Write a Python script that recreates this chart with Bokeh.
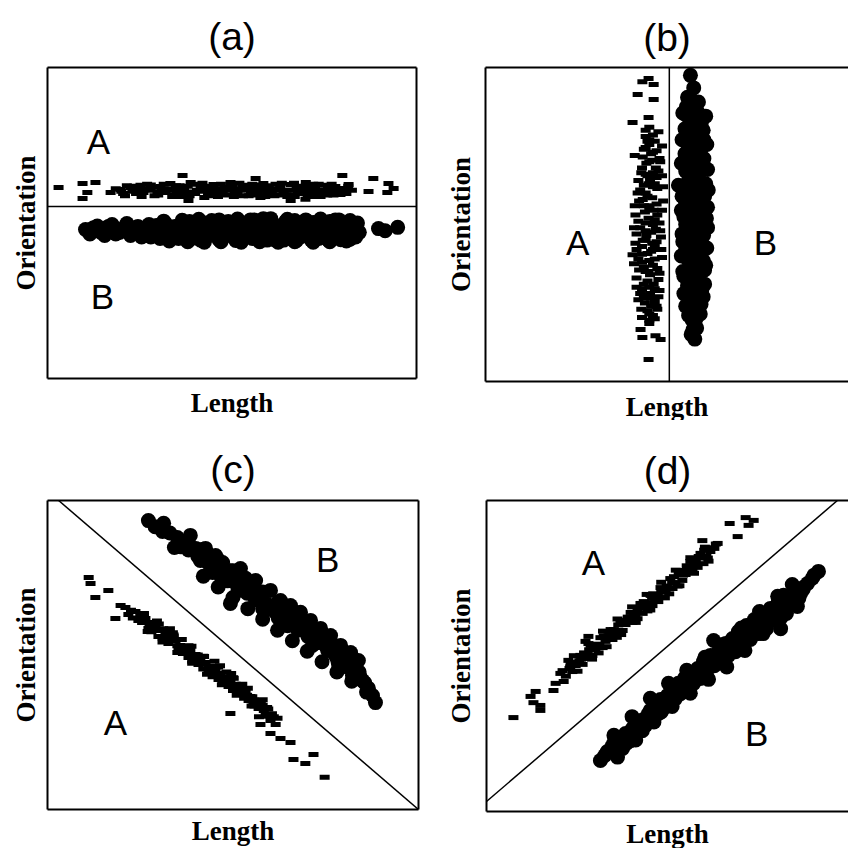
from bokeh.plotting import figure
from bokeh.models import Range1d, LinearAxis, FixedTicker, Span
from bokeh.layouts import column, row
from bokeh.core.properties import value
from bokeh.embed import file_html
from bokeh.resources import INLINE

# ---------------- data (arbitrary units 0-100) -------------
# Panel (a): boundary horizontal
a_A_len = [3.0, 9.5, 13.0, 10.8, 9.5, 36.6, 56.4, 79.9, 38.2, 65.9, 69.9, 88.3, 87.0, 92.4, 93.8, 92.1, 81.6,
           17.1, 19.8, 22.5, 24.0, 25.2, 27.9, 29.0, 30.6, 32.0, 33.3, 34.5, 36.0, 37.0, 38.8, 40.0, 41.5, 42.5,
           44.2, 45.0, 46.9, 48.0, 49.6, 50.5, 52.3, 53.5, 55.0, 56.0, 57.7, 58.5, 60.4, 61.5, 63.1, 64.0, 65.9,
           67.0, 68.6, 70.0, 71.3, 72.5, 74.0, 75.0, 76.7, 78.0, 79.4, 80.5, 26.5, 35.0, 43.0, 47.5, 51.0, 54.0,
           57.0, 59.5, 62.0, 66.0, 69.0, 73.0, 77.5, 31.0, 39.0, 44.0,
           18.5, 20.5, 21.5, 23.0, 24.5, 26.0, 27.0, 28.5, 29.8, 31.5, 32.8, 34.0, 35.8, 37.5, 38.0, 39.5, 40.5,
           42.0, 43.5, 45.5, 46.2, 47.0, 48.5, 50.0, 51.5, 52.8, 54.5, 55.5, 56.8, 58.0, 59.0, 60.0, 61.0, 62.5,
           63.5, 64.8, 66.5, 67.5, 68.0, 69.5, 70.8, 71.8, 73.5, 74.5, 75.8, 77.0, 78.5, 80.0, 81.0, 82.5,
           20.0, 21.0, 23.5, 25.5, 28.0, 30.0, 32.5, 33.8, 36.5, 38.5, 40.8, 43.0, 45.8, 48.8, 50.8, 53.0,
           55.8, 58.8, 60.8, 62.8, 65.0, 67.8, 70.5, 72.0, 74.8, 76.0, 79.0, 81.5, 34.8, 44.8, 52.0, 57.5,
           61.8, 66.8, 71.0, 75.5]
a_A_ori = [61.4, 62.7, 63.0, 59.8, 57.9, 65.3, 64.3, 65.3, 57.2, 57.2, 57.6, 64.3, 60.1, 62.7, 61.1, 59.8, 62.4,
           59.8, 60.8, 61.4, 59.5, 62.1, 60.5, 58.8, 61.7, 59.8, 62.7, 60.8, 58.5, 61.1, 63.0, 59.5, 61.7, 58.2,
           60.1, 62.4, 59.2, 61.4, 63.0, 58.5, 60.5, 62.1, 59.2, 61.1, 58.2, 62.7, 60.1, 58.8, 61.7, 59.5, 62.4,
           58.5, 60.8, 63.0, 59.2, 61.4, 58.5, 62.1, 60.1, 61.7, 59.2, 61.1, 61.0, 60.0, 60.5, 60.0, 61.0, 60.8,
           60.0, 59.5, 60.5, 60.5, 61.7, 60.0, 59.0, 60.5, 60.0, 61.0,
           61.0, 59.5, 62.0, 60.2, 61.0, 59.8, 62.5, 61.5, 60.0, 62.5, 61.0, 59.0, 62.0, 59.8, 61.8, 62.5, 60.5,
           62.8, 59.2, 61.0, 58.5, 62.5, 59.0, 62.0, 59.5, 61.5, 58.8, 62.5, 59.0, 61.2, 58.5, 62.0, 60.8, 59.0,
           62.8, 60.5, 59.0, 61.8, 59.5, 60.2, 61.5, 58.5, 62.5, 60.5, 59.0, 62.5, 60.5, 60.0, 59.5, 60.5,
           60.2, 58.8, 61.8, 58.5, 62.2, 59.0, 60.5, 58.5, 61.5, 58.8, 60.2, 61.8, 59.8, 60.5, 59.8, 58.8,
           60.5, 60.8, 59.2, 61.0, 58.5, 60.0, 59.0, 62.5, 59.5, 61.5, 60.2, 61.8, 62.0, 58.8, 62.8, 62.2,
           62.5, 62.8, 60.5, 60.2]
a_B_len = [10.3, 12.5, 14.5, 16.5, 18.5, 20.5, 22.5, 24.5, 26.5, 28.0, 29.5, 31.0, 33.0, 34.5, 36.0, 37.5, 39.0,
           40.5, 42.0, 43.5, 45.0, 46.5, 48.0, 49.5, 51.0, 52.5, 54.0, 55.5, 57.0, 58.5, 60.0, 61.5, 63.0, 64.5,
           66.0, 67.5, 69.0, 70.5, 72.0, 73.5, 75.0, 76.5, 78.0, 79.5, 81.0, 82.5, 84.0, 83.5, 89.7, 94.9,
           44.0, 50.0, 56.0, 62.0, 68.0, 74.0, 80.0, 35.0, 27.0, 19.0,
           11.5, 13.5, 15.5, 17.5, 19.5, 21.5, 23.5, 25.5, 27.5, 29.0, 30.5, 32.0, 33.5, 35.5, 37.0, 38.5,
           40.0, 41.5, 43.0, 44.5, 46.0, 47.5, 49.0, 50.5, 52.0, 53.5, 55.0, 56.5, 58.0, 59.5, 61.0, 62.5,
           64.0, 65.5, 67.0, 68.5, 70.0, 71.5, 73.0, 74.5, 76.0, 77.5, 79.0, 80.5, 82.0, 83.0, 84.5, 91.5,
           31.5, 36.5, 41.0, 46.5, 51.5, 56.0, 60.5, 65.0, 70.0, 74.0, 78.0, 82.0,
           33.0, 38.0, 42.5, 47.0, 52.5, 57.5, 62.5, 67.0, 72.0, 76.5, 81.0]
a_B_ori = [47.9, 48.5, 47.0, 48.9, 46.5, 48.2, 46.0, 48.9, 47.2, 45.5, 49.2, 47.0, 45.3, 48.9, 46.5, 49.8, 45.0,
           47.9, 50.2, 46.0, 48.5, 44.6, 49.5, 46.9, 44.4, 50.2, 47.5, 45.0, 49.2, 51.4, 46.5, 44.6, 48.5, 50.5,
           46.0, 44.4, 49.2, 47.0, 50.2, 45.0, 48.2, 50.5, 46.0, 44.6, 49.5, 47.2, 50.0, 45.5, 48.2, 48.6,
           47.0, 48.0, 47.5, 47.0, 47.5, 47.0, 48.0, 47.5, 47.8, 47.5,
           46.5, 49.0, 46.0, 49.5, 47.0, 49.8, 47.0, 45.5, 49.5, 47.5, 45.0, 49.8, 47.5, 45.0, 47.8, 50.5,
           46.0, 44.5, 49.0, 50.8, 47.0, 45.0, 50.5, 47.5, 45.5, 49.0, 51.0, 46.0, 48.5, 44.5, 50.0, 46.5,
           44.5, 48.5, 50.8, 45.5, 48.5, 44.5, 49.5, 46.5, 44.6, 49.0, 51.0, 46.5, 44.8, 48.5, 47.0, 47.5,
           50.6, 50.9, 51.2, 51.0, 51.3, 51.0, 51.4, 51.2, 51.0, 51.3, 51.0, 50.8,
           44.2, 44.0, 43.8, 44.0, 43.8, 44.0, 43.8, 44.0, 43.8, 44.0, 44.2]
a_boundary_ori = 55.3

# Panel (b): boundary vertical
b_A_len = [44.8, 43.1, 46.2, 41.8, 46.2, 40.4, 44.8, 42.6, 43.1, 46.7, 48.1, 44.8, 40.4, 46.5,
           45.0, 47.5, 44.0, 46.5, 48.5, 43.5, 45.5, 47.8, 44.2, 46.8, 42.8, 48.5, 45.2, 43.5, 47.2, 41.8,
           45.8, 48.8, 43.5, 46.2, 41.2, 44.8, 47.8, 42.5, 45.5, 48.2, 43.2, 46.5, 41.5, 44.5, 48.5, 43.0,
           46.0, 42.2, 45.2, 47.5, 43.5, 46.5, 42.5, 45.5, 43.8, 47.0, 44.5, 46.0, 43.0, 45.0,
           45.0, 44.0, 46.0, 44.0, 45.0, 47.0, 44.0, 46.0, 45.0, 46.0, 44.0, 45.0,
           44.0, 46.0, 45.0, 43.2, 47.0, 45.8, 43.0, 47.5, 44.5, 46.5, 42.5, 44.5, 47.0, 42.2, 45.0, 43.8,
           47.2, 42.0, 44.0, 46.8, 41.5, 44.2, 47.0, 43.0, 45.5, 42.0, 45.0, 47.2, 43.5, 41.5, 44.5, 46.2,
           43.0, 45.2, 47.5, 43.5, 45.5, 42.8, 45.0,
           41.0, 48.0, 42.0, 48.8, 41.0, 48.5, 40.8, 48.0, 41.2, 48.3, 40.8, 47.8, 41.5, 47.8, 42.0, 47.2,
           44.0, 46.0, 44.8, 43.2, 46.5, 44.0, 45.8, 43.0, 46.5, 44.8, 44.0, 46.5, 45.0, 44.5, 46.0]
b_A_ori = [96.5, 95.5, 94.6, 91.4, 89.8, 82.5, 84.1, 16.6, 14.0, 14.6, 13.4, 7.0, 40.4, 20.0,
           81.0, 79.5, 78.0, 76.5, 75.0, 74.0, 72.5, 71.0, 69.5, 68.0, 66.5, 65.5, 64.0, 62.5, 61.5, 60.0,
           58.5, 57.5, 56.0, 54.5, 53.0, 52.0, 50.5, 49.0, 47.5, 46.0, 45.0, 43.5, 42.0, 40.8, 39.5, 38.0,
           37.0, 35.5, 34.0, 32.5, 31.0, 29.5, 28.0, 26.5, 25.0, 24.0, 22.5, 21.0, 20.4, 18.5,
           70.0, 60.0, 50.0, 45.0, 55.0, 65.0, 35.0, 42.0, 30.0, 62.0, 66.0, 77.0,
           80.0, 78.5, 75.5, 71.5, 73.5, 70.5, 68.0, 67.0, 65.5, 63.0, 61.0, 59.0, 56.5, 57.5, 56.0, 54.0,
           53.0, 51.0, 50.5, 48.5, 47.0, 46.5, 44.5, 43.0, 41.5, 39.0, 38.5, 36.0, 36.5, 33.0, 32.0, 31.0,
           29.5, 28.0, 27.0, 26.5, 24.0, 23.0, 21.5,
           72.0, 70.0, 64.0, 62.0, 56.0, 54.5, 49.0, 48.0, 44.0, 42.0, 37.5, 34.5, 30.0, 29.0, 26.0, 23.0,
           74.5, 66.5, 63.0, 58.0, 51.5, 48.0, 44.0, 40.5, 39.0, 35.0, 27.5, 25.5, 19.5, 76.5, 73.0]
b_B_len = [56.3, 57.2, 56.5, 55.2, 58.2, 56.0, 59.3, 54.8, 57.5, 60.0, 55.5, 58.5, 56.0, 59.8, 55.0, 57.8,
           60.5, 54.5, 57.0, 59.5, 53.0, 55.8, 58.8, 60.7, 55.0, 57.5, 59.9, 54.2, 56.8, 59.2, 55.5, 58.0,
           60.2, 54.5, 57.0, 59.5, 55.8, 58.5, 56.0, 59.0, 56.8, 58.0, 56.5, 57.5,
           57.0, 57.0, 57.0, 57.0, 57.0, 57.0, 57.0, 57.0, 57.0, 57.0,
           55.5, 58.5, 55.0, 57.5, 59.8, 55.8, 58.0, 59.5, 54.8, 57.2, 60.0, 56.5, 58.8, 55.8, 59.0, 56.2,
           60.2, 55.0, 57.8, 56.5, 54.5, 59.0, 56.0, 58.8, 55.8, 58.0, 55.0, 57.5, 59.8, 56.5, 58.5, 55.5,
           58.0, 56.5, 59.2, 55.8, 57.8, 57.0,
           54.2, 60.5, 54.0, 60.8, 53.8, 61.0, 54.0, 61.2, 53.8, 61.0, 54.0, 61.0, 53.8, 60.8, 54.2, 60.5,
           54.5, 60.2, 55.0, 59.8, 57.0, 57.5, 56.8, 57.2, 56.0, 58.5, 57.0, 56.5, 58.0, 57.5, 57.5]
b_B_ori = [97.5, 93.5, 89.5, 87.5, 86.0, 84.0, 82.5, 80.5, 79.0, 77.0, 75.5, 73.0, 71.0, 69.0, 67.0, 65.0,
           63.0, 61.0, 59.5, 57.5, 62.5, 55.5, 54.0, 52.0, 50.0, 48.5, 46.5, 44.5, 43.0, 41.0, 39.0, 37.5,
           35.5, 33.5, 31.5, 29.5, 27.5, 25.5, 23.5, 21.5, 19.5, 17.0, 15.0, 13.5,
           88.0, 76.0, 70.0, 58.0, 52.0, 46.0, 40.0, 34.0, 28.0, 22.0,
           90.5, 89.0, 85.0, 83.0, 80.0, 78.0, 76.0, 74.5, 72.5, 72.0, 71.0, 68.0, 66.5, 64.0, 62.5, 60.5,
           59.0, 57.0, 56.0, 53.5, 52.5, 50.5, 49.0, 47.5, 45.5, 44.0, 42.0, 40.5, 38.5, 36.0, 33.0, 30.5,
           29.0, 26.5, 24.5, 21.0, 20.0, 16.5,
           85.5, 84.5, 77.0, 75.5, 69.5, 67.5, 59.0, 61.0, 54.5, 55.5, 47.0, 49.0, 40.0, 42.5, 35.0, 37.0,
           28.0, 31.0, 24.0, 27.0, 86.5, 81.0, 74.0, 62.0, 56.0, 50.0, 44.5, 38.0, 31.5, 25.0, 18.5]
b_boundary_len = 50.5

# Panel (c): boundary diagonal falling
c_A_len = [11.1, 11.6, 12.9, 16.4, 18.3, 19.7, 49.3, 65.5, 62.8, 66.3, 69.5, 71.7, 74.7, 57.4, 60.1,
           21.0, 21.8, 23.7, 24.5, 26.4, 27.2, 27.8, 29.1, 29.9, 30.5, 31.8, 32.6, 33.2, 34.5, 35.3, 35.8,
           37.2, 38.0, 38.5, 39.9, 40.7, 41.2, 42.6, 43.4, 43.9, 45.3, 46.1, 46.6, 48.0, 48.8, 49.3, 50.7,
           51.5, 52.0, 53.4, 54.2, 54.7, 56.1, 56.9, 58.0, 58.8, 60.1, 61.5,
           25.0, 28.5, 31.0, 34.0, 36.5, 39.0, 42.0, 44.5, 47.5, 50.0, 53.0, 55.5, 45.0, 33.0, 49.5,
           22.5, 23.0, 25.5, 26.0, 28.0, 29.5, 31.2, 32.0, 33.8, 35.0, 36.2, 37.5, 38.8, 40.0, 40.5, 41.8,
           42.2, 44.0, 45.8, 46.5, 47.2, 48.2, 49.8, 50.2, 51.0, 52.5, 53.8, 55.2, 55.8, 57.5, 58.3, 59.2,
           60.5, 62.0, 57.0,
           26.0, 27.0, 30.0, 31.0, 34.0, 35.0, 38.0, 39.0, 42.0, 43.0, 46.0, 47.0, 50.0, 51.0, 54.0, 55.0,
           58.0, 59.0, 27.5, 29.0, 31.5, 33.0, 35.5, 37.0, 39.5, 41.0, 43.5, 45.0, 47.5, 49.0, 51.5, 53.0,
           55.5, 57.0, 59.5, 61.0]
c_A_ori = [75.1, 73.1, 68.6, 70.9, 61.8, 66.0, 31.1, 21.7, 23.0, 16.2, 14.9, 17.8, 10.4, 27.5, 24.6,
           65.4, 63.1, 64.1, 61.2, 61.8, 58.6, 60.5, 59.2, 56.0, 57.9, 57.0, 53.7, 55.7, 54.7, 51.5, 53.1,
           52.4, 49.2, 51.5, 50.2, 46.9, 48.5, 47.6, 44.3, 46.3, 45.6, 42.1, 44.0, 43.0, 39.8, 41.7, 40.5,
           37.5, 39.2, 38.2, 35.3, 36.6, 35.3, 32.7, 33.7, 30.7, 28.8, 27.5,
           62.5, 59.5, 55.5, 56.0, 50.5, 48.0, 45.5, 43.0, 41.0, 38.5, 36.0, 34.0, 48.0, 58.5, 44.0,
           64.5, 62.0, 60.5, 63.0, 57.5, 61.0, 58.5, 55.5, 57.2, 53.0, 55.0, 50.8, 52.8, 48.0, 50.0, 47.0,
           49.5, 45.0, 43.5, 46.5, 41.5, 44.5, 40.0, 42.5, 38.5, 40.5, 37.0, 36.5, 33.5, 35.0, 32.0, 33.0,
           31.0, 29.5, 30.0,
           63.4, 57.6, 60.0, 54.2, 56.5, 50.8, 53.0, 47.3, 49.6, 43.8, 46.1, 40.4, 42.6, 37.0, 39.2, 33.5,
           35.5, 30.2, 59.5, 58.0, 56.0, 55.0, 53.0, 51.5, 49.5, 48.0, 46.0, 44.5, 42.0, 41.0, 38.5, 37.5,
           35.5, 34.0, 32.5, 30.0]
c_B_len = [27.2, 31.3, 31.0, 35.0, 38.5, 34.2, 37.2, 39.9, 42.6, 41.2, 43.9, 45.3, 47.2, 46.6, 49.3, 50.7,
           52.0, 53.4, 54.7, 56.1, 49.3, 57.4, 58.8, 60.1, 61.5, 62.8, 64.2, 65.5, 66.8, 68.2, 69.5, 70.9,
           72.2, 73.6, 74.9, 76.3, 77.6, 79.0, 80.3, 81.7, 83.0, 83.8, 84.9, 86.5, 88.4, 87.6,
           44.5, 51.5, 58.0, 64.7, 71.4, 78.4, 82.2,
           29.0, 33.0, 36.5, 38.0, 40.5, 42.5, 44.8, 45.8, 47.8, 48.5, 50.0, 51.3, 52.8, 53.8, 55.5, 56.5,
           57.8, 59.5, 61.0, 62.2, 63.5, 64.8, 66.2, 67.5, 68.8, 70.2, 71.5, 72.8, 74.2, 75.5, 76.8, 78.2,
           79.6, 81.0, 82.5, 84.2, 85.5, 86.0,
           42.0, 46.0, 50.0, 54.0, 58.0, 62.0, 66.0, 70.0, 74.0, 78.0, 82.0,
           42.0, 46.0, 50.0, 54.0, 58.0, 62.0, 66.0, 70.0, 74.0, 78.0, 82.0,
           44.0, 48.0, 52.0, 56.0, 60.0, 64.0, 68.0, 72.0, 76.0, 80.0, 84.0, 40.0, 36.0, 38.0]
c_B_ori = [93.5, 92.6, 90.0, 88.0, 88.7, 84.8, 85.4, 83.8, 84.5, 80.6, 78.6, 82.2, 79.9, 75.7, 77.3, 73.5,
           78.0, 74.8, 70.9, 74.1, 66.7, 69.3, 66.7, 70.9, 63.8, 67.6, 62.8, 66.0, 59.5, 63.8, 57.9, 61.2,
           55.3, 58.6, 53.1, 56.3, 49.8, 53.1, 47.6, 50.8, 45.0, 48.2, 41.7, 39.2, 34.6, 36.9,
           76.7, 70.9, 65.0, 59.5, 53.1, 47.2, 43.4,
           91.5, 89.5, 86.5, 84.0, 82.0, 80.5, 80.0, 77.0, 76.5, 74.0, 75.5, 71.8, 72.5, 70.0, 71.5, 67.8,
           68.5, 64.8, 66.0, 62.0, 64.5, 60.5, 62.0, 58.0, 60.5, 56.0, 58.0, 54.0, 55.5, 51.5, 53.0, 48.5,
           50.0, 46.0, 47.0, 43.0, 41.0, 38.0,
           84.2, 80.8, 77.3, 73.8, 70.4, 66.9, 63.4, 60.0, 56.4, 52.8, 49.0,
           75.5, 72.0, 68.6, 65.0, 61.6, 58.0, 54.6, 51.2, 47.8, 44.5, 41.5,
           80.5, 75.0, 73.5, 68.0, 65.5, 61.0, 58.5, 54.0, 51.5, 46.5, 44.5, 84.5, 85.0, 86.0]
c_boundary_len = [3.0, 100.0]
c_boundary_ori = [100.0, 0.0]

# Panel (d): boundary diagonal rising
d_A_len = [71.2, 73.4, 72.0, 66.8, 69.0, 59.3, 63.5,
           7.4, 12.1, 13.5, 14.8, 14.8, 12.9, 18.4, 19.0, 28.0, 27.2, 20.9, 22.5,
           20.3, 21.2, 23.1, 23.6, 24.5, 25.8, 26.4, 27.2, 28.6, 29.1, 29.9, 31.3, 31.9, 32.7, 34.1, 34.6,
           35.4, 36.8, 37.4, 38.2, 39.6, 40.1, 40.9, 42.3, 42.9, 43.7, 45.1, 45.6, 46.4, 47.8, 48.4, 49.2,
           50.5, 51.1, 51.9, 53.3, 53.8, 54.7, 56.0, 56.6, 57.4, 58.8, 59.6, 60.4, 61.5, 62.6,
           21.8, 22.8, 24.0, 25.2, 26.0, 26.8, 27.8, 28.2, 29.5, 30.5, 30.8, 32.2, 33.5, 33.8, 35.0, 35.8,
           36.2, 37.8, 38.8, 39.2, 40.5, 41.5, 41.8, 43.2, 44.2, 44.8, 45.8, 47.0, 47.2, 48.0, 49.8, 50.2,
           51.5, 52.5, 52.8, 54.0, 55.0, 55.5, 57.0, 58.0, 58.3, 59.8, 60.8, 61.8, 63.0,
           24.0, 25.0, 28.0, 29.0, 32.0, 33.0, 36.0, 37.0, 40.0, 41.0, 44.0, 45.0, 48.0, 49.0, 52.0, 53.0,
           56.0, 57.0, 60.0, 61.0, 23.0, 25.5, 27.0, 29.5, 31.0, 33.5, 35.0, 37.5, 39.0, 41.5, 43.0, 45.5,
           47.0, 49.5, 51.0, 53.5, 55.0, 57.5, 59.0]
d_A_ori = [94.5, 93.6, 92.0, 92.6, 88.4, 87.1, 86.2,
           30.2, 37.0, 38.6, 34.1, 32.5, 35.0, 38.9, 41.2, 56.3, 54.7, 45.3, 48.6,
           44.4, 41.8, 47.6, 45.0, 46.9, 50.2, 47.3, 49.2, 53.4, 50.2, 52.1, 55.9, 52.7, 54.7, 58.5, 55.3,
           57.2, 61.4, 58.2, 60.1, 64.0, 60.8, 62.7, 66.9, 63.7, 65.6, 69.5, 66.2, 68.2, 72.0, 68.8, 70.7,
           74.9, 71.7, 73.6, 77.5, 74.3, 76.2, 80.4, 77.2, 79.1, 83.0, 79.7, 82.0, 83.6, 84.6,
           43.5, 46.0, 48.0, 47.8, 49.0, 51.0, 50.5, 52.0, 53.5, 53.8, 51.0, 56.5, 55.5, 57.5, 58.5, 56.0,
           60.0, 60.5, 62.5, 61.5, 63.5, 62.0, 65.5, 67.5, 64.5, 67.0, 70.0, 69.5, 67.5, 70.5, 72.0, 70.0,
           75.5, 72.5, 76.5, 76.0, 79.0, 77.5, 80.5, 78.5, 82.0, 84.0, 81.5, 84.8, 86.0,
           50.1, 45.1, 54.0, 49.0, 58.0, 53.0, 61.9, 56.9, 65.8, 60.8, 69.8, 64.8, 73.7, 68.7, 77.6, 72.6,
           81.6, 76.6, 85.0, 80.5, 46.5, 48.5, 50.0, 52.5, 53.5, 56.5, 57.5, 60.5, 61.5, 64.5, 65.5, 68.5,
           69.5, 72.5, 73.5, 76.5, 77.5, 80.5, 81.5]
d_B_len = [31.3, 33.2, 34.6, 36.3, 37.4, 38.2, 39.6, 40.1, 41.8, 42.3, 43.7, 44.5, 45.6, 46.4, 47.3, 47.8,
           48.6, 49.7, 50.5, 51.1, 51.9, 52.7, 53.3, 54.4, 55.2, 56.0, 56.9, 58.0, 58.8, 59.6, 60.4, 61.5,
           62.4, 62.6, 63.7, 64.8, 65.7, 66.5, 67.6, 68.4, 69.2, 70.3, 71.4, 72.5, 73.6, 74.7, 75.8, 76.9,
           78.0, 79.4, 80.2, 80.8, 81.6, 82.4, 83.5, 85.4, 86.3, 88.2, 91.2,
           32.5, 34.0, 35.2, 36.0, 37.0, 38.5, 39.0, 40.5, 41.0, 42.8, 43.2, 44.8, 45.0, 46.0, 47.0, 48.0,
           49.0, 50.0, 51.5, 52.2, 53.5, 54.8, 55.8, 57.2, 58.5, 59.2, 60.8, 62.0, 63.2, 64.2, 65.2, 66.0,
           67.0, 68.0, 69.8, 70.8, 72.0, 73.0, 74.2, 75.2, 76.2, 77.5, 78.5, 79.8, 81.0, 82.0, 83.0, 84.5,
           85.8, 87.0, 89.5, 90.0,
           35.0, 36.0, 40.0, 41.0, 45.0, 46.0, 50.0, 51.0, 55.0, 56.0, 60.0, 61.0, 65.0, 66.0, 70.0, 71.0,
           75.0, 76.0, 80.0, 81.0, 84.0, 85.0, 38.0, 43.0, 48.0, 53.0, 58.0, 63.0, 68.0, 73.0, 78.0, 83.0,
           87.0]
d_B_ori = [16.4, 19.3, 21.2, 22.5, 20.3, 25.1, 22.8, 26.7, 25.7, 28.9, 27.7, 31.5, 29.6, 33.8, 31.5, 36.0,
           33.1, 37.3, 34.7, 39.9, 36.3, 41.2, 37.9, 42.8, 39.5, 44.4, 41.2, 46.0, 42.8, 48.2, 44.4, 50.2,
           55.0, 46.9, 51.4, 48.2, 54.0, 50.2, 55.6, 51.4, 57.9, 53.4, 59.8, 55.3, 61.7, 57.2, 63.0, 58.8,
           65.3, 61.4, 67.5, 58.8, 69.5, 63.7, 66.9, 65.9, 70.1, 73.3, 77.2,
           18.0, 19.5, 22.8, 20.5, 23.8, 22.0, 24.5, 24.0, 27.5, 26.0, 29.5, 29.0, 32.5, 31.0, 34.5, 32.0,
           35.5, 36.5, 37.5, 39.0, 40.0, 41.5, 42.0, 43.5, 45.0, 46.0, 47.0, 48.5, 49.0, 50.5, 52.0, 51.8,
           53.0, 54.0, 55.5, 56.5, 57.5, 59.5, 59.5, 61.0, 61.5, 63.0, 63.5, 64.5, 66.0, 67.0, 68.0, 69.0,
           68.5, 71.5, 75.0, 76.0,
           24.5, 17.5, 30.5, 23.0, 36.4, 28.8, 41.2, 33.8, 45.4, 38.0, 49.6, 42.5, 53.7, 46.5, 59.0, 51.8,
           64.3, 57.2, 69.2, 62.5, 73.0, 67.0, 24.0, 29.5, 35.5, 40.0, 44.0, 48.0, 52.8, 58.0, 63.0, 68.0,
           72.0]
d_boundary_len = [0.0, 96.4]
d_boundary_ori = [3.2, 100.0]

panel_titles = ["(a)", "(b)", "(c)", "(d)"]
region_labels = ["A", "B"]
x_label = "Length"
y_label = "Orientation"

# label anchor positions (inside each panel, data units)
a_lab_x, a_lab_y = [13.8, 14.9], [76.2, 26.4]
b_lab_x, b_lab_y = [25.3, 76.9], [44.3, 44.3]
c_lab_x, c_lab_y = [18.3, 75.5], [28.2, 80.9]
d_lab_x, d_lab_y = [29.4, 74.2], [80.1, 25.1]

SANS = "Liberation Sans"
SERIF = "Liberation Serif"


def make_axis(label=None, standoff=10):
    ax = LinearAxis(ticker=FixedTicker(ticks=[]), axis_label=label)
    ax.axis_line_width = 2
    ax.axis_line_color = "black"
    ax.major_tick_line_color = None
    ax.minor_tick_line_color = None
    ax.major_tick_out = 0
    ax.major_tick_in = 0
    ax.minor_tick_out = 0
    ax.major_label_text_font_size = "0px"
    ax.axis_label_text_font = SERIF
    ax.axis_label_text_font_style = "bold"
    ax.axis_label_text_font_size = "27px"
    ax.axis_label_text_color = "black"
    ax.axis_label_standoff = standoff
    return ax


def make_panel(title, fw, fh, x_end, borders, right_edge, stand_x, stand_y, title_stand):
    bl, bt, br, bb = borders
    p = figure(frame_width=fw, frame_height=fh,
               x_range=Range1d(0, x_end), y_range=Range1d(0, 100),
               x_axis_type=None, y_axis_type=None,
               output_backend="svg", toolbar_location=None,
               min_border_left=bl, min_border_top=bt,
               min_border_right=br, min_border_bottom=bb,
               title=title)
    p.outline_line_color = None
    p.background_fill_color = "white"
    p.border_fill_color = "white"
    p.title.align = "center"
    p.title.text_font = SANS
    p.title.text_font_style = "normal"
    p.title.text_font_size = "39px"
    p.title.text_color = "black"
    p.title.standoff = title_stand
    p.add_layout(make_axis(y_label, stand_y), "left")
    p.add_layout(make_axis(x_label, stand_x), "below")
    p.add_layout(make_axis(None), "above")
    if right_edge:
        p.add_layout(make_axis(None), "right")
    return p


def add_points(p, ax_, ay_, bx_, by_, lx, ly):
    p.rect(ax_, ay_, width=10, height=5, width_units="screen", height_units="screen",
           fill_color="black", line_color=None)
    p.scatter(bx_, by_, size=15, marker="circle", fill_color="black", line_color=None)
    p.text(lx, ly, text=region_labels, text_font=value(SANS), text_font_size="35px",
           text_align="center", text_baseline="middle", text_color="black")


pa = make_panel(panel_titles[0], 369, 311, 100, (47, 67, 4, 42), True, 9, 7, 20)
add_points(pa, a_A_len, a_A_ori, a_B_len, a_B_ori, a_lab_x, a_lab_y)
pa.add_layout(Span(location=a_boundary_ori, dimension="width", line_color="black", line_width=1.5))

pb = make_panel(panel_titles[1], 363, 314, 363 / 3.64, (65, 63, 0, 43), False, 10, 10, 18)
add_points(pb, b_A_len, b_A_ori, b_B_len, b_B_ori, b_lab_x, b_lab_y)
pb.add_layout(Span(location=b_boundary_len, dimension="height", line_color="black", line_width=1.5))

pc = make_panel(panel_titles[2], 371, 309, 100, (47, 80, 2, 38), True, 6, 7, 20)
pc.line(c_boundary_len, c_boundary_ori, line_color="black", line_width=1.5)
add_points(pc, c_A_len, c_A_ori, c_B_len, c_B_ori, c_lab_x, c_lab_y)

pd = make_panel(panel_titles[3], 362, 311, 362 / 3.64, (66, 77, 0, 39), False, 7, 11, 18)
pd.line(d_boundary_len, d_boundary_ori, line_color="black", line_width=1.5)
add_points(pd, d_A_len, d_A_ori, d_B_len, d_B_ori, d_lab_x, d_lab_y)

layout = column(row(pa, pb, spacing=0), row(pc, pd, spacing=0), spacing=0)
open("out.html", "w").write(file_html(layout, INLINE))
